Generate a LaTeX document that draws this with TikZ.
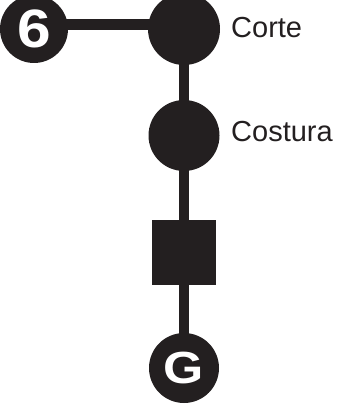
\documentclass[tikz,border=0pt]{standalone}
\usepackage{fontspec}
\setmainfont{Liberation Sans}
\usetikzlibrary{backgrounds}
\definecolor{ink}{HTML}{231F20}
\begin{document}
\begin{tikzpicture}[x=1pt,y=-1pt,
  dot/.style={circle,fill=ink,inner sep=0pt,minimum size=#1},
  box/.style={rectangle,fill=ink,inner sep=0pt,minimum width=64pt,minimum height=65pt},
  lbl/.style={anchor=west,inner sep=0pt,font=\fontsize{29}{29}\selectfont,text=ink},
  conn/.style={draw=ink,line width=10.5pt},
  sym/.style={text=white,font=\bfseries\fontsize{#1}{#1}\selectfont}]
\useasboundingbox (0,0) rectangle (338,404);
\node[dot=68pt,sym=54] (six) at (34,29) {\scalebox{1.12}[1]{6}};
\node[dot=72pt] (corte) at (184,29) {};
\node[dot=71pt] (costura) at (184,135.5) {};
\node[box] (sq) at (184,252.5) {};
\node[dot=70pt,sym=45] (g) at (184,368) {\scalebox{1.15}[1]{G}};
\node[lbl] (lc) at (231,28) {Corte};
\node[lbl] (lco) at (231,132) {Costura};
\begin{pgfonlayer}{background}
\draw[conn] ([yshift=4.5pt]six.center) -- ([yshift=4.5pt]corte.center);
\draw[conn] (corte.center) -- (costura.center) -- (sq.center) -- (g.center);
\end{pgfonlayer}
\end{tikzpicture}
\end{document}
